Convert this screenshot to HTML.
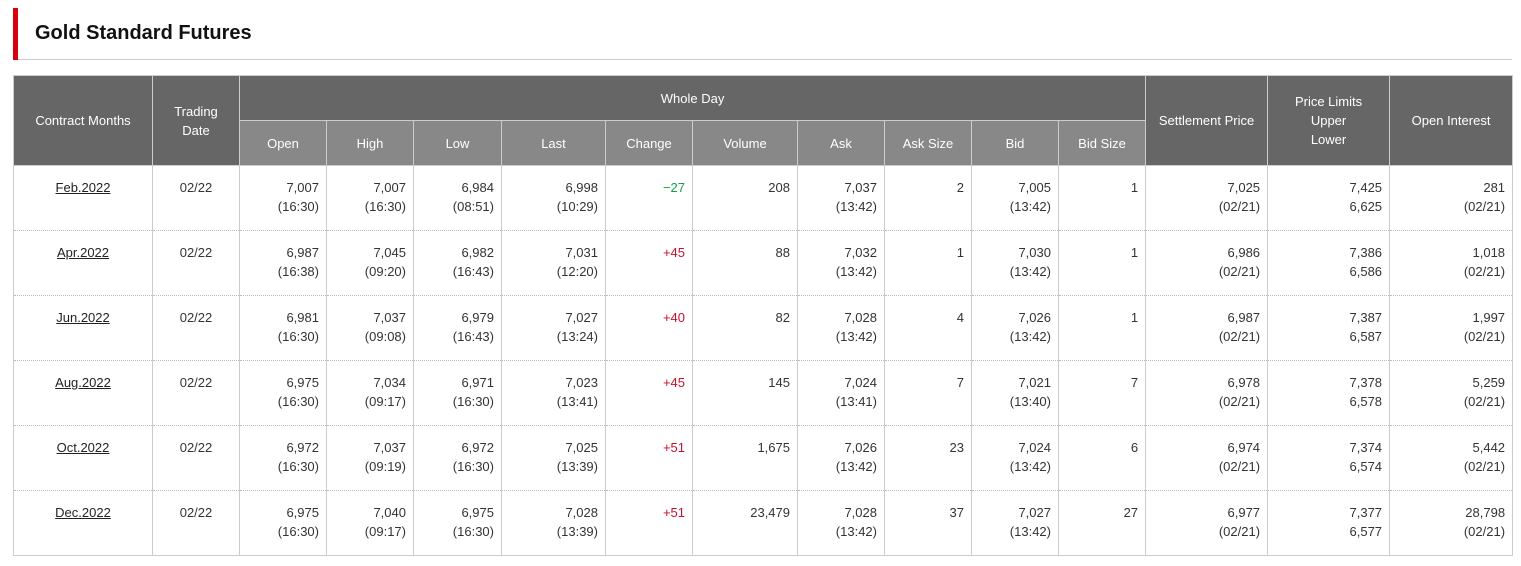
<!DOCTYPE html>
<html><head><meta charset="utf-8"><style>
body{margin:0;background:#fff;font-family:"Liberation Sans","Noto Sans CJK JP",sans-serif;color:#333;width:1521px;height:566px;overflow:hidden;position:relative}
.bar{position:absolute;left:13px;top:8px;width:5px;height:52px;background:#d7000f}
.title{position:absolute;left:35px;top:22px;font-size:20px;font-weight:bold;color:#111}
.hr{position:absolute;left:18px;top:59px;width:1494px;height:1px;background:#ccc}
table{position:absolute;left:13px;top:75px;border-collapse:collapse;table-layout:fixed;width:1499px;font-size:13px}
th{background:#666;color:#fff;font-weight:normal;border:1px solid #ccc;height:44px;line-height:19px;padding:0}
th.s{background:#888}
td{border-left:1px solid #ccc;border-right:1px solid #ccc;border-bottom:1px dotted #bbb;height:65px;vertical-align:top;text-align:right;padding:12px 7px 0 0;line-height:19px;box-sizing:border-box}
td.c{text-align:center;padding-right:0}
td.c u{color:#222}
tr:last-child td{border-bottom:1px solid #ccc}
.g{color:#1a9c4a}.r{color:#c8102e}
</style></head><body>
<div class="bar"></div><div class="title">Gold Standard Futures</div><div class="hr"></div>
<table>
<colgroup><col style="width:139px"><col style="width:87px"><col style="width:87px"><col style="width:87px"><col style="width:88px"><col style="width:104px"><col style="width:87px"><col style="width:105px"><col style="width:87px"><col style="width:87px"><col style="width:87px"><col style="width:87px"><col style="width:122px"><col style="width:122px"><col style="width:123px"></colgroup>
<tr><th rowspan="2">Contract Months</th><th rowspan="2">Trading<br>Date</th><th colspan="10">Whole Day</th><th rowspan="2">Settlement Price</th><th rowspan="2">Price Limits<br>Upper<br>Lower</th><th rowspan="2">Open Interest</th></tr>
<tr><th class="s">Open</th><th class="s">High</th><th class="s">Low</th><th class="s">Last</th><th class="s">Change</th><th class="s">Volume</th><th class="s">Ask</th><th class="s">Ask Size</th><th class="s">Bid</th><th class="s">Bid Size</th></tr>
<tr><td class="c"><u>Feb.2022</u></td><td class="c">02/22</td><td>7,007<br>(16:30)</td><td>7,007<br>(16:30)</td><td>6,984<br>(08:51)</td><td>6,998<br>(10:29)</td><td class="g">−27</td><td>208</td><td>7,037<br>(13:42)</td><td>2</td><td>7,005<br>(13:42)</td><td>1</td><td>7,025<br>(02/21)</td><td>7,425<br>6,625</td><td>281<br>(02/21)</td></tr>
<tr><td class="c"><u>Apr.2022</u></td><td class="c">02/22</td><td>6,987<br>(16:38)</td><td>7,045<br>(09:20)</td><td>6,982<br>(16:43)</td><td>7,031<br>(12:20)</td><td class="r">+45</td><td>88</td><td>7,032<br>(13:42)</td><td>1</td><td>7,030<br>(13:42)</td><td>1</td><td>6,986<br>(02/21)</td><td>7,386<br>6,586</td><td>1,018<br>(02/21)</td></tr>
<tr><td class="c"><u>Jun.2022</u></td><td class="c">02/22</td><td>6,981<br>(16:30)</td><td>7,037<br>(09:08)</td><td>6,979<br>(16:43)</td><td>7,027<br>(13:24)</td><td class="r">+40</td><td>82</td><td>7,028<br>(13:42)</td><td>4</td><td>7,026<br>(13:42)</td><td>1</td><td>6,987<br>(02/21)</td><td>7,387<br>6,587</td><td>1,997<br>(02/21)</td></tr>
<tr><td class="c"><u>Aug.2022</u></td><td class="c">02/22</td><td>6,975<br>(16:30)</td><td>7,034<br>(09:17)</td><td>6,971<br>(16:30)</td><td>7,023<br>(13:41)</td><td class="r">+45</td><td>145</td><td>7,024<br>(13:41)</td><td>7</td><td>7,021<br>(13:40)</td><td>7</td><td>6,978<br>(02/21)</td><td>7,378<br>6,578</td><td>5,259<br>(02/21)</td></tr>
<tr><td class="c"><u>Oct.2022</u></td><td class="c">02/22</td><td>6,972<br>(16:30)</td><td>7,037<br>(09:19)</td><td>6,972<br>(16:30)</td><td>7,025<br>(13:39)</td><td class="r">+51</td><td>1,675</td><td>7,026<br>(13:42)</td><td>23</td><td>7,024<br>(13:42)</td><td>6</td><td>6,974<br>(02/21)</td><td>7,374<br>6,574</td><td>5,442<br>(02/21)</td></tr>
<tr><td class="c"><u>Dec.2022</u></td><td class="c">02/22</td><td>6,975<br>(16:30)</td><td>7,040<br>(09:17)</td><td>6,975<br>(16:30)</td><td>7,028<br>(13:39)</td><td class="r">+51</td><td>23,479</td><td>7,028<br>(13:42)</td><td>37</td><td>7,027<br>(13:42)</td><td>27</td><td>6,977<br>(02/21)</td><td>7,377<br>6,577</td><td>28,798<br>(02/21)</td></tr>
</table>
</body></html>
